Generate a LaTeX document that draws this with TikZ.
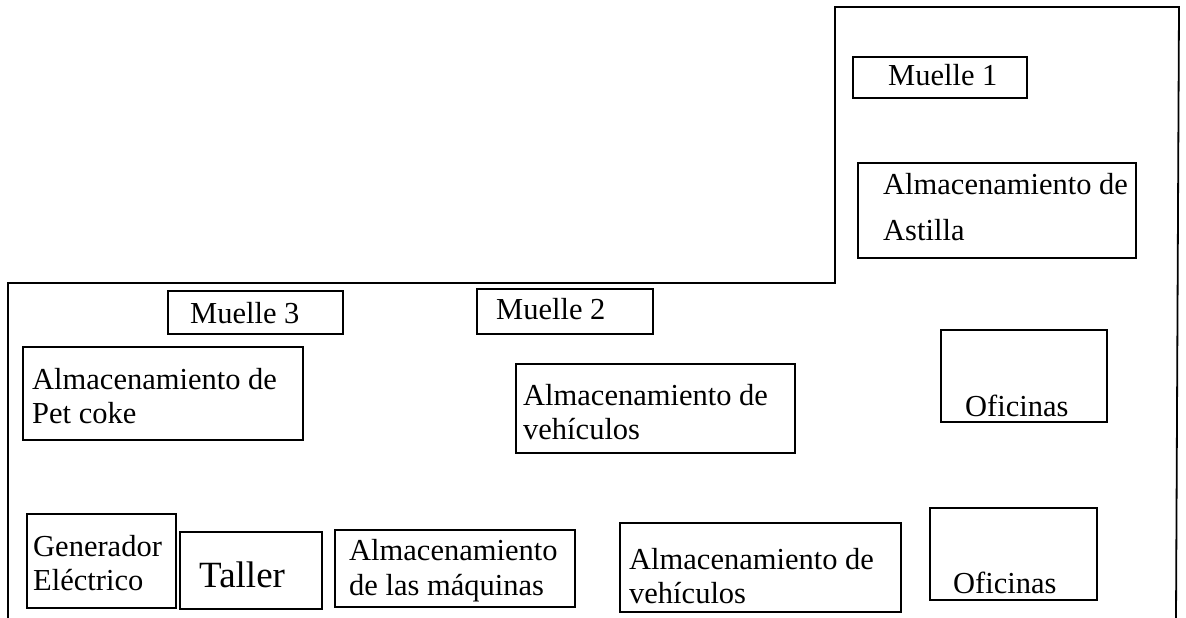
\documentclass[tikz,border=0pt]{standalone}
\usepackage{fontspec}
\setmainfont{Liberation Serif}
\usetikzlibrary{fit}
\begin{document}
\begin{tikzpicture}[x=1pt,y=-1pt,
  area/.style={draw, line width=1.7pt, inner sep=0pt},
  lbl/.style={inner sep=0pt, anchor=base west, font=\fontsize{30.5}{34}\selectfont},
  big/.style={lbl, font=\fontsize{37}{40}\selectfont},
  wall/.style={line width=1.8pt, line join=miter}]
\useasboundingbox (0,0) rectangle (1186,618);

% site boundary
\coordinate (w1) at (8,618);
\coordinate (w2) at (8,283);
\coordinate (w3) at (835,283);
\coordinate (w4) at (835,7);
\coordinate (w5) at (1179,7);
\coordinate (w6) at (1176,618);
\draw[wall] (w1) -- (w2) -- (w3) -- (w4) -- (w5) -- (w6);

% upper right zone
\node[area, fit={(853,57) (1027,98)}] (m1) {};
\node[lbl] (m1t) at (888,85) {Muelle 1};
\node[area, fit={(858,163) (1136,258)}] (ast) {};
\node[lbl] (ast1) at (883,194) {Almacenamiento de};
\node[lbl] (ast2) at (883,240) {Astilla};

% middle row
\node[area, fit={(168,291) (343,334)}] (m3) {};
\node[lbl] (m3t) at (190,323) {Muelle 3};
\node[area, fit={(23,347) (303,440)}] (pet) {};
\node[lbl] (pet1) at (32,389) {Almacenamiento de};
\node[lbl] (pet2) at (32,423) {Pet coke};

\node[area, fit={(477,289) (653,334)}] (m2) {};
\node[lbl] (m2t) at (496,319) {Muelle 2};
\node[area, fit={(516,364) (795,453)}] (veh1) {};
\node[lbl] (veh1a) at (523,405) {Almacenamiento de};
\node[lbl] (veh1b) at (523,439) {vehículos};

\node[area, fit={(941,330) (1107,422)}] (of1) {};
\node[lbl] (of1t) at (965,416) {Oficinas};

% bottom row
\node[area, fit={(27,514) (176,608)}] (gen) {};
\node[lbl] (gen1) at (33,556) {Generador};
\node[lbl] (gen2) at (33,590) {Eléctrico};

\node[area, fit={(180,532) (322,609)}] (tal) {};
\node[big] (talt) at (199,587) {Taller};

\node[area, fit={(335,530) (575,607)}] (maq) {};
\node[lbl] (maq1) at (349,560) {Almacenamiento};
\node[lbl] (maq2) at (349,595) {de las máquinas};

\node[area, fit={(620,523) (901,612)}] (veh2) {};
\node[lbl] (veh2a) at (629,569) {Almacenamiento de};
\node[lbl] (veh2b) at (629,603) {vehículos};

\node[area, fit={(930,508) (1097,600)}] (of2) {};
\node[lbl] (of2t) at (953,593) {Oficinas};
\end{tikzpicture}
\end{document}
